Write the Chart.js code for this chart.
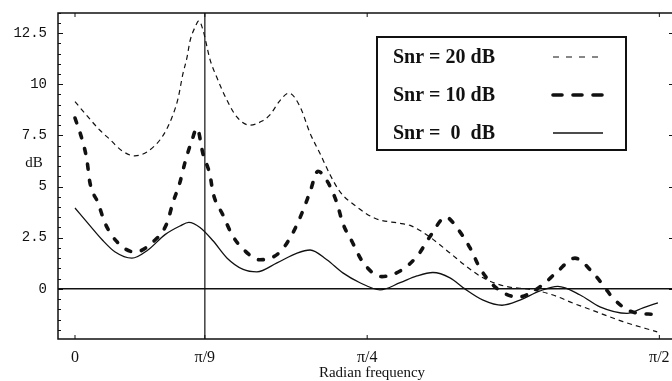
<!DOCTYPE html>
<html><head><meta charset="utf-8">
<script src="https://cdn.jsdelivr.net/npm/chart.js@4/dist/chart.umd.min.js"></script>
<style>html,body{margin:0;padding:0;background:#fff;overflow:hidden}#wrap{width:672px;height:381px;position:relative}</style>
</head><body><div id="wrap"><canvas id="c"></canvas></div>
<script>
// Radian frequency (x) and dB values
const freq20 = [0.000,0.035,0.067,0.094,0.126,0.161,0.194,0.237,0.261,0.277,0.290,0.301,0.309,0.323,0.333,0.344,0.363,0.382,0.409,0.435,0.470,0.503,0.524,0.551,0.575,0.605,0.632,0.659,0.685,0.712,0.758,0.806,0.874,0.901,0.954,1.008,1.054,1.097,1.151,1.231,1.285,1.339,1.384,1.473,1.565];
const snr20  = [9.15,8.4,7.75,7.3,6.75,6.5,6.7,7.5,8.4,9.3,10.5,11.3,12.1,12.8,13.1,12.65,11.2,10.3,9.2,8.4,8.0,8.2,8.5,9.2,9.57,8.9,7.6,6.6,5.6,4.75,4.0,3.45,3.2,3.1,2.53,1.75,1.07,0.54,0.15,-0.05,-0.3,-0.7,-1.0,-1.6,-2.1];

const freq10 = [0.000,0.019,0.032,0.040,0.062,0.081,0.113,0.161,0.210,0.247,0.263,0.282,0.296,0.315,0.328,0.344,0.363,0.371,0.398,0.422,0.449,0.497,0.551,0.586,0.610,0.632,0.653,0.680,0.704,0.720,0.745,0.774,0.825,0.879,0.922,0.954,0.997,1.030,1.062,1.089,1.129,1.191,1.250,1.296,1.344,1.390,1.425,1.446,1.497,1.559];
const snr10  = [8.35,7.3,6.3,5.2,4.2,3.2,2.3,1.8,2.3,3.2,4.2,5.2,6.2,7.3,7.85,6.6,5.55,4.7,3.6,2.65,2.0,1.42,1.8,2.75,3.7,4.75,5.75,5.2,4.2,3.2,2.3,1.3,0.6,0.93,1.65,2.55,3.5,2.9,2.0,1.0,0.1,-0.4,0.1,0.83,1.5,0.83,0.05,-0.45,-1.12,-1.25];

const freq0 = [0.000,0.035,0.073,0.108,0.153,0.196,0.242,0.282,0.306,0.336,0.371,0.409,0.452,0.489,0.543,0.597,0.632,0.677,0.720,0.766,0.820,0.874,0.919,0.962,1.008,1.048,1.097,1.148,1.196,1.250,1.298,1.358,1.411,1.484,1.527,1.567];
const snr0  = [3.95,3.2,2.4,1.8,1.5,1.9,2.65,3.07,3.25,3.0,2.35,1.5,0.95,0.83,1.27,1.75,1.9,1.42,0.78,0.3,-0.05,0.3,0.63,0.8,0.54,0.0,-0.55,-0.8,-0.55,-0.1,0.12,-0.3,-0.88,-1.2,-0.93,-0.68];

const seriesLabels = ['Snr = 20 dB','Snr = 10 dB','Snr =  0  dB'];
const yTickValues = [0,2.5,5,7.5,10,12.5];
const yTickLabels = ['0','2.5','5','7.5','10','12.5'];
const xTickValues = [0, Math.PI/9, Math.PI/4, Math.PI/2];
const xTickLabels = ['0','\u03c0/9','\u03c0/4','\u03c0/2'];
const markerLine = Math.PI/9;

const pts = (xs, ys) => xs.map((x,i)=>({x, y: ys[i]}));
const INK = '#111';

const decor = {
  id: 'decor',
  beforeDatasetsDraw(chart) {
    const {ctx, chartArea: a, scales: {x, y}} = chart;
    ctx.save();
    ctx.strokeStyle = INK;
    ctx.lineWidth = 1.5;
    const y0 = y.getPixelForValue(0);
    ctx.beginPath(); ctx.moveTo(a.left, y0); ctx.lineTo(a.right, y0); ctx.stroke();
    ctx.lineWidth = 1.2;
    const xm = x.getPixelForValue(markerLine);
    ctx.beginPath(); ctx.moveTo(xm, a.top); ctx.lineTo(xm, a.bottom); ctx.stroke();
    ctx.restore();
  },
  afterDraw(chart) {
    const {ctx, chartArea: a, scales: {x, y}} = chart;
    ctx.save();
    ctx.strokeStyle = INK;
    ctx.lineWidth = 1.5;
    ctx.beginPath();
    ctx.moveTo(a.right, a.top); ctx.lineTo(a.left, a.top); ctx.lineTo(a.left, a.bottom); ctx.lineTo(a.right, a.bottom);
    ctx.stroke();
    // inward ticks on left axis
    ctx.lineWidth = 1;
    for (let v = -2.5; v <= 13.5; v += 0.5) {
      const py = Math.round(y.getPixelForValue(v)) + 0.5;
      if (py < a.top || py > a.bottom) continue;
      const major = Math.abs(v/2.5 - Math.round(v/2.5)) < 1e-6;
      ctx.beginPath(); ctx.moveTo(a.left, py); ctx.lineTo(a.left + (major ? 5 : 3), py); ctx.stroke();
      if (major) { ctx.beginPath(); ctx.moveTo(a.right, py); ctx.lineTo(a.right - 3, py); ctx.stroke(); }
    }
    xTickValues.forEach(v => {
      const px = x.getPixelForValue(v);
      ctx.beginPath(); ctx.moveTo(px, a.bottom); ctx.lineTo(px, a.bottom - 4); ctx.stroke();
      ctx.beginPath(); ctx.moveTo(px, a.top); ctx.lineTo(px, a.top + 4); ctx.stroke();
    });
    // axis texts
    ctx.fillStyle = INK;
    ctx.textBaseline = 'middle';
    ctx.textAlign = 'center';
    ctx.font = '15px "Liberation Serif"';
    ctx.fillText('dB', 34, 163);
    ctx.fillText('Radian frequency', 372, 373);
    // legend box
    const bx = 377, by = 37, bw = 249, bh = 113;
    ctx.fillStyle = '#fff';
    ctx.fillRect(bx, by, bw, bh);
    ctx.lineWidth = 2;
    ctx.strokeRect(bx, by, bw, bh);
    ctx.fillStyle = INK;
    ctx.textAlign = 'left';
    ctx.font = 'bold 20px "Liberation Serif"';
    chart.data.datasets.forEach((ds, i) => {
      const cy = 57 + i * 38;
      ctx.fillText(ds.label, 393, cy + 1);
      ctx.save();
      ctx.lineWidth = ds.borderWidth;
      ctx.setLineDash(ds.legendDash || []);
      ctx.lineCap = ds.borderCapStyle || 'butt';
      ctx.beginPath(); ctx.moveTo(553, cy); ctx.lineTo(603, cy); ctx.stroke();
      ctx.restore();
    });
    ctx.restore();
  }
};

new Chart(document.getElementById('c'), {
  type: 'line',
  data: {
    datasets: [
      {label: seriesLabels[0], data: pts(freq20, snr20), borderColor: INK, borderWidth: 1.2, borderDash: [5,4], legendDash: [6,7]},
      {label: seriesLabels[1], data: pts(freq10, snr10), borderColor: INK, borderWidth: 3.6, borderDash: [5,11], borderCapStyle: 'round', legendDash: [9,11]},
      {label: seriesLabels[2], data: pts(freq0, snr0), borderColor: INK, borderWidth: 1.3}
    ]
  },
  options: {
    responsive: true, maintainAspectRatio: false, animation: false,
    layout: {padding: {top: 13, left: 0, right: 0, bottom: 0}},
    elements: {point: {radius: 0}, line: {cubicInterpolationMode: 'monotone'}},
    plugins: {legend: {display: false}, tooltip: {enabled: false}},
    scales: {
      x: {
        type: 'linear', min: -0.0457, max: 1.6048,
        afterBuildTicks: s => { s.ticks = xTickValues.map(v => ({value: v})); },
        afterFit: s => { s.height = 42; s.paddingLeft = 0; s.paddingRight = 0; },
        grid: {display: false, drawTicks: false}, border: {display: false},
        ticks: {
          callback: v => xTickLabels[xTickValues.findIndex(t => Math.abs(t - v) < 1e-9)],
          font: {family: 'Liberation Serif', size: 16}, color: INK, padding: 9,
          maxRotation: 0, autoSkip: false
        }
      },
      y: {
        min: -2.45, max: 13.48,
        afterBuildTicks: s => { s.ticks = yTickValues.map(v => ({value: v})); },
        afterFit: s => { s.width = 58; s.paddingTop = 0; s.paddingBottom = 0; },
        grid: {display: false, drawTicks: false}, border: {display: false},
        ticks: {
          callback: v => yTickLabels[yTickValues.indexOf(v)],
          font: {family: 'Liberation Mono', size: 14}, color: INK, padding: 11
        }
      }
    }
  },
  plugins: [decor]
});
</script>
</body></html>
